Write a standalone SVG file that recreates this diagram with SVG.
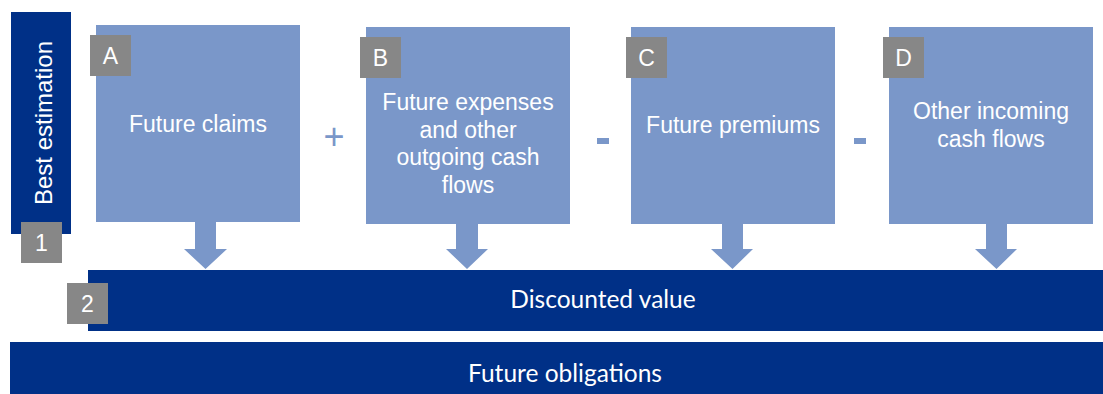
<svg xmlns="http://www.w3.org/2000/svg" width="1103" height="394" viewBox="0 0 1103 394">
<style>
.box{fill:#7A97C9}
.dark{fill:#003087}
.tag{fill:#878787}
.t{font-family:"Liberation Sans",Arial,sans-serif;font-size:23px;fill:#fff;text-anchor:middle}
.tagt{font-family:"Liberation Sans",Arial,sans-serif;font-size:23px;fill:#fff;text-anchor:middle}
.op{font-family:"Liberation Sans",Arial,sans-serif;font-size:36px;fill:#7A97C9;text-anchor:middle}
.bt{font-family:"Lato","Open Sans",sans-serif;font-size:24.5px;fill:#fff;text-anchor:middle}
.arrow{fill:#7A97C9}
</style>
<rect width="1103" height="394" fill="#fff"/>
<g id="best-estimation">
<rect class="dark" x="11" y="12" width="60" height="222"/>
<text class="t" style="font-size:24px" transform="translate(52,123) rotate(-90)">Best estimation</text>
</g>
<g id="tag-1">
<rect class="tag" x="21" y="222" width="41" height="41"/>
<text class="tagt" x="41.5" y="251">1</text>
</g>
<g id="node-A">
<rect class="box" x="96" y="25" width="204" height="197"/>
<rect class="tag" x="90" y="35" width="41" height="41"/>
<text class="tagt" x="110.5" y="64">A</text>
<text class="t" x="198" y="132">Future claims</text>
</g>
<g id="node-B">
<rect class="box" x="366" y="27" width="204" height="197"/>
<rect class="tag" x="360" y="37" width="41" height="41"/>
<text class="tagt" x="380.5" y="66">B</text>
<text class="t" x="468" y="110">Future expenses</text>
<text class="t" x="468" y="138">and other</text>
<text class="t" x="468" y="165">outgoing cash</text>
<text class="t" x="468" y="193">flows</text>
</g>
<g id="node-C">
<rect class="box" x="631" y="27" width="204" height="197"/>
<rect class="tag" x="626" y="37" width="41" height="41"/>
<text class="tagt" x="646.5" y="66">C</text>
<text class="t" x="733" y="133">Future premiums</text>
</g>
<g id="node-D">
<rect class="box" x="889" y="27" width="204" height="197"/>
<rect class="tag" x="883" y="37" width="41" height="41"/>
<text class="tagt" x="903.5" y="66">D</text>
<text class="t" x="991" y="119">Other incoming</text>
<text class="t" x="991" y="147">cash flows</text>
</g>
<g id="operators">
<text class="op" x="334" y="149">+</text>
<rect class="arrow" x="597" y="138" width="12" height="6"/>
<rect class="arrow" x="854" y="138" width="12" height="6"/>
</g>
<g id="discounted-value">
<rect class="dark" x="88" y="270" width="1015" height="61"/>
<rect class="tag" x="67" y="283" width="41" height="41"/>
<text class="tagt" x="87.5" y="312">2</text>
<text class="bt" x="603" y="308">Discounted value</text>
</g>
<g id="future-obligations">
<rect class="dark" x="10" y="342" width="1093" height="52"/>
<text class="bt" x="565" y="382">Future obligations</text>
</g>
<g id="connectors">
<polygon class="arrow" points="195,222 216,222 216,249 227,249 205.5,269 184,249 195,249"/>
<polygon class="arrow" points="456,224 478,224 478,249 488,249 467,269 446,249 456,249"/>
<polygon class="arrow" points="722,224 743,224 743,249 753,249 732.5,269 711,249 722,249"/>
<polygon class="arrow" points="986,224 1007,224 1007,249 1017,249 996.5,269 975,249 986,249"/>
</g>
</svg>
